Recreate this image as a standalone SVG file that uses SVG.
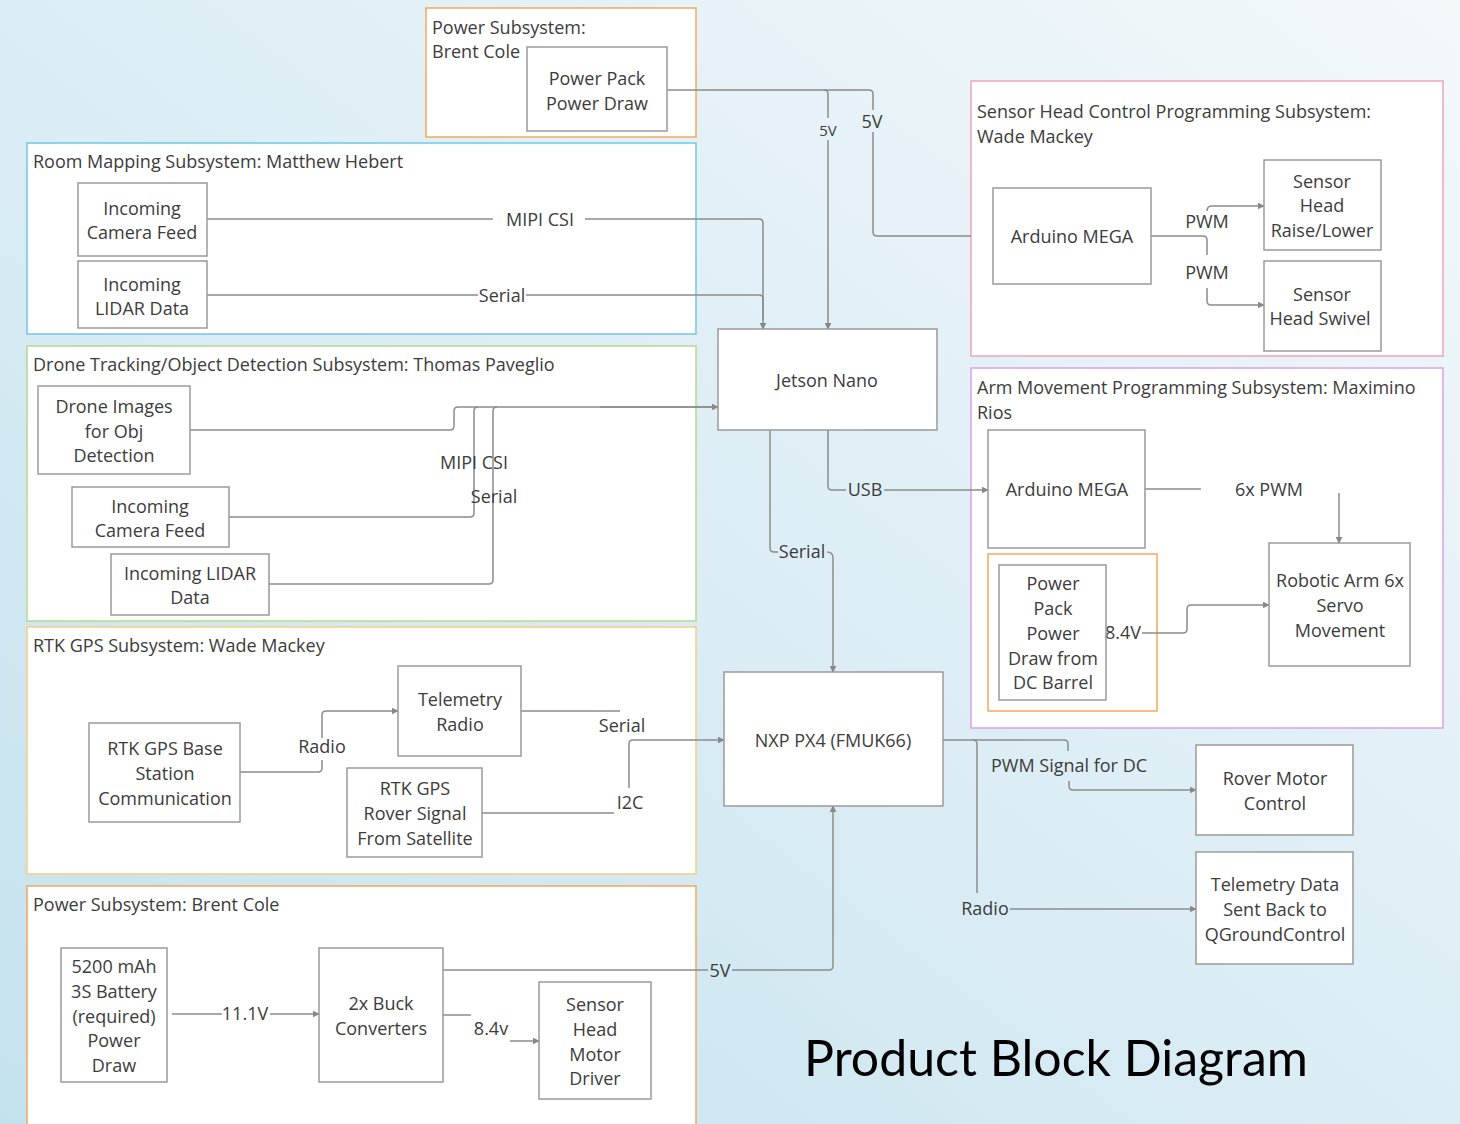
<svg xmlns="http://www.w3.org/2000/svg" width="1460" height="1124" viewBox="0 0 1460 1124">
<defs>
<linearGradient id="bg" x1="1" y1="0" x2="0" y2="1">
<stop offset="0" stop-color="#f3f8fb"/>
<stop offset="0.5" stop-color="#dcedf5"/>
<stop offset="1" stop-color="#c4e2ee"/>
</linearGradient>
<marker id="arr" viewBox="0 0 10 10" refX="9" refY="5" markerWidth="7" markerHeight="7" orient="auto-start-reverse" markerUnits="userSpaceOnUse">
<path d="M0,0 L10,5 L0,10 z" fill="#888"/>
</marker>
<style>
.cont{fill:#fff;stroke-width:1.5}
.box{fill:#fff;stroke:#9a9a9a;stroke-width:1.5}
text{font-family:"Open Sans","Noto Sans","DejaVu Sans",sans-serif;font-size:18px;fill:#3c3c3c}
.c{text-anchor:middle}
.ln{fill:none;stroke:#8c8c8c;stroke-width:1.5}
.ar{marker-end:url(#arr)}
</style>
</defs>
<rect width="1460" height="1124" fill="url(#bg)"/>

<g id="sub-power-top">
<rect class="cont" x="426" y="8" width="270" height="129" stroke="#f5a85c"/>
<text x="432" y="34">Power Subsystem:</text>
<text x="432" y="58">Brent Cole</text>
</g>
<g id="sub-room">
<rect class="cont" x="27" y="143" width="669" height="191" stroke="#72c6e4"/>
<text x="33" y="168">Room Mapping Subsystem: Matthew Hebert</text>
</g>
<g id="sub-drone">
<rect class="cont" x="27" y="346" width="669" height="275" stroke="#b6d98c"/>
<text x="33" y="371">Drone Tracking/Object Detection Subsystem: Thomas Paveglio</text>
</g>
<g id="sub-rtk">
<rect class="cont" x="27" y="627" width="669" height="247" stroke="#f6cd80"/>
<text x="33" y="652">RTK GPS Subsystem: Wade Mackey</text>
</g>
<g id="sub-power-bottom">
<rect class="cont" x="27" y="886" width="669" height="250" stroke="#f5a85c"/>
<text x="33" y="911">Power Subsystem: Brent Cole</text>
</g>
<g id="sub-sensorhead">
<rect class="cont" x="971" y="81" width="472" height="275" stroke="#f2a4b6"/>
<text x="977" y="118">Sensor Head Control Programming Subsystem:</text>
<text x="977" y="143">Wade Mackey</text>
</g>
<g id="sub-arm">
<rect class="cont" x="971" y="368" width="472" height="360" stroke="#d9a2e9"/>
<text x="977" y="394">Arm Movement Programming Subsystem: Maximino</text>
<text x="977" y="419">Rios</text>
<rect x="988" y="554" width="169" height="157" fill="#fff" stroke="#f5a85c" stroke-width="1.5"/>
</g>

<g id="connectors">
<path class="ln" d="M667,90 H824 Q828,90 828,94 V118"/>
<path class="ln ar" d="M828,140 V329"/>
<text x="828" y="136" class="c" style="font-size:15px">5V</text>
<path class="ln" d="M824,90 H869 Q873,90 873,94 V110"/>
<path class="ln" d="M873,132 V232 Q873,236 877,236 H971"/>
<text x="872" y="128" class="c">5V</text>
<path class="ln" d="M207,219 H493"/>
<path class="ln ar" d="M585,219 H759 Q763,219 763,223 V329"/>
<text x="540" y="226" class="c">MIPI CSI</text>
<path class="ln" d="M207,295 H478"/>
<path class="ln" d="M526,295 H759 Q763,295 763,299 V320"/>
<text x="502" y="302" class="c">Serial</text>
<path class="ln" d="M190,430 H450 Q454,430 454,426 V411 Q454,407 458,407 H714"/>
<path class="ln ar" d="M600,407 H718"/>
<path class="ln" d="M229,517 H470 Q474,517 474,513 V411 Q474,407 478,407"/>
<path class="ln" d="M269,584 H489 Q493,584 493,580 V411 Q493,407 497,407"/>
<text x="474" y="469" class="c">MIPI CSI</text>
<text x="494" y="503" class="c">Serial</text>
<path class="ln" d="M240,772 H318 Q322,772 322,768 V760"/>
<path class="ln ar" d="M322,738 V715 Q322,711 326,711 H398"/>
<text x="322" y="753" class="c">Radio</text>
<path class="ln" d="M521,711 H620"/>
<text x="622" y="732" class="c">Serial</text>
<path class="ln ar" d="M629,788 V744 Q629,740 633,740 H724"/>
<path class="ln" d="M482,813 H614"/>
<text x="630" y="809" class="c">I2C</text>
<path class="ln" d="M172,1014 H222"/>
<text x="245" y="1020" class="c">11.1V</text>
<path class="ln ar" d="M270,1014 H319"/>
<path class="ln" d="M443,970 H708"/>
<text x="720" y="977" class="c">5V</text>
<path class="ln ar" d="M732,970 H829 Q833,970 833,966 V806"/>
<path class="ln" d="M443,1015 H471"/>
<text x="491" y="1035" class="c">8.4v</text>
<path class="ln ar" d="M510,1041 H539"/>
<path class="ln" d="M828,430 V486 Q828,490 832,490 H846"/>
<text x="865" y="496" class="c">USB</text>
<path class="ln ar" d="M884,490 H988"/>
<path class="ln" d="M770,430 V548 Q770,552 774,552 H778"/>
<text x="802" y="558" class="c">Serial</text>
<path class="ln ar" d="M827,552 Q833,552 833,558 V672"/>
<path class="ln" d="M1151,236 H1203 Q1207,236 1207,240 V255"/>
<text x="1207" y="228" class="c">PWM</text>
<text x="1207" y="279" class="c">PWM</text>
<path class="ln ar" d="M1207,211 Q1207,206 1212,206 H1264"/>
<path class="ln ar" d="M1207,288 V301 Q1207,305 1211,305 H1264"/>
<path class="ln" d="M1145,489 H1201"/>
<text x="1269" y="496" class="c">6x PWM</text>
<path class="ln ar" d="M1339,493 V543"/>
<text x="1123" y="639" class="c">8.4V</text>
<path class="ln ar" d="M1142,633 H1183 Q1187,633 1187,629 V609 Q1187,605 1191,605 H1269"/>
<path class="ln" d="M943,740 H1064 Q1068,740 1068,744 V751"/>
<text x="1069" y="772" class="c">PWM Signal for DC</text>
<path class="ln ar" d="M1069,781 V786 Q1069,790 1073,790 H1196"/>
<path class="ln" d="M973,740 Q977,740 977,744 V893"/>
<text x="985" y="915" class="c">Radio</text>
<path class="ln ar" d="M1010,909 H1196"/>
</g>

<g id="power-pack-top"><rect class="box" x="527" y="47" width="140" height="84"/><text class="c" x="597" y="85">Power Pack</text><text class="c" x="597" y="110">Power Draw</text></g>
<g id="room-camera"><rect class="box" x="78" y="183" width="129" height="73"/><text class="c" x="142" y="215">Incoming</text><text class="c" x="142" y="239">Camera Feed</text></g>
<g id="room-lidar"><rect class="box" x="78" y="261" width="129" height="67"/><text class="c" x="142" y="291">Incoming</text><text class="c" x="142" y="315">LIDAR Data</text></g>
<g id="drone-images"><rect class="box" x="38" y="386" width="152" height="88"/><text class="c" x="114" y="413">Drone Images</text><text class="c" x="114" y="438">for Obj</text><text class="c" x="114" y="462">Detection</text></g>
<g id="drone-camera"><rect class="box" x="72" y="487" width="157" height="60"/><text class="c" x="150" y="513">Incoming</text><text class="c" x="150" y="537">Camera Feed</text></g>
<g id="drone-lidar"><rect class="box" x="111" y="554" width="158" height="61"/><text class="c" x="190" y="580">Incoming LIDAR</text><text class="c" x="190" y="604">Data</text></g>
<g id="rtk-base"><rect class="box" x="89" y="723" width="151" height="99"/><text class="c" x="165" y="755">RTK GPS Base</text><text class="c" x="165" y="780">Station</text><text class="c" x="165" y="805">Communication</text></g>
<g id="telemetry-radio"><rect class="box" x="398" y="666" width="123" height="90"/><text class="c" x="460" y="706">Telemetry</text><text class="c" x="460" y="731">Radio</text></g>
<g id="rtk-rover"><rect class="box" x="347" y="768" width="135" height="89"/><text class="c" x="415" y="795">RTK GPS</text><text class="c" x="415" y="820">Rover Signal</text><text class="c" x="415" y="845">From Satellite</text></g>
<g id="battery"><rect class="box" x="61" y="948" width="106" height="134"/><text class="c" x="114" y="973">5200 mAh</text><text class="c" x="114" y="998">3S Battery</text><text class="c" x="114" y="1023">(required)</text><text class="c" x="114" y="1047">Power</text><text class="c" x="114" y="1072">Draw</text></g>
<g id="buck"><rect class="box" x="319" y="948" width="124" height="134"/><text class="c" x="381" y="1010">2x Buck</text><text class="c" x="381" y="1035">Converters</text></g>
<g id="motor-driver"><rect class="box" x="539" y="982" width="112" height="117"/><text class="c" x="595" y="1011">Sensor</text><text class="c" x="595" y="1036">Head</text><text class="c" x="595" y="1061">Motor</text><text class="c" x="595" y="1085">Driver</text></g>
<g id="jetson"><rect class="box" x="718" y="329" width="219" height="101"/><text class="c" x="827" y="387">Jetson Nano</text></g>
<g id="nxp"><rect class="box" x="724" y="672" width="219" height="134"/><text class="c" x="833" y="747">NXP PX4 (FMUK66)</text></g>
<g id="sh-arduino"><rect class="box" x="993" y="188" width="158" height="96"/><text class="c" x="1072" y="243">Arduino MEGA</text></g>
<g id="sh-raise"><rect class="box" x="1264" y="160" width="117" height="90"/><text class="c" x="1322" y="188">Sensor</text><text class="c" x="1322" y="212">Head</text><text class="c" x="1322" y="237">Raise/Lower</text></g>
<g id="sh-swivel"><rect class="box" x="1264" y="261" width="117" height="90"/><text class="c" x="1322" y="301">Sensor</text><text class="c" x="1320" y="325">Head Swivel</text></g>
<g id="arm-arduino"><rect class="box" x="988" y="430" width="157" height="118"/><text class="c" x="1067" y="496">Arduino MEGA</text></g>
<g id="arm-power"><rect class="box" x="999" y="565" width="107" height="135"/><text class="c" x="1053" y="590">Power</text><text class="c" x="1053" y="615">Pack</text><text class="c" x="1053" y="640">Power</text><text class="c" x="1053" y="665">Draw from</text><text class="c" x="1053" y="689">DC Barrel</text></g>
<g id="robotic-arm"><rect class="box" x="1269" y="543" width="141" height="123"/><text class="c" x="1340" y="587">Robotic Arm 6x</text><text class="c" x="1340" y="612">Servo</text><text class="c" x="1340" y="637">Movement</text></g>
<g id="rover-motor"><rect class="box" x="1196" y="745" width="157" height="90"/><text class="c" x="1275" y="785">Rover Motor</text><text class="c" x="1275" y="810">Control</text></g>
<g id="telemetry-data"><rect class="box" x="1196" y="852" width="157" height="112"/><text class="c" x="1275" y="891">Telemetry Data</text><text class="c" x="1275" y="916">Sent Back to</text><text class="c" x="1275" y="941">QGroundControl</text></g>

<text x="1056" y="1076" class="c" style="font-family:'Lato','Open Sans',sans-serif;font-size:50px;fill:#000">Product Block Diagram</text>
</svg>
